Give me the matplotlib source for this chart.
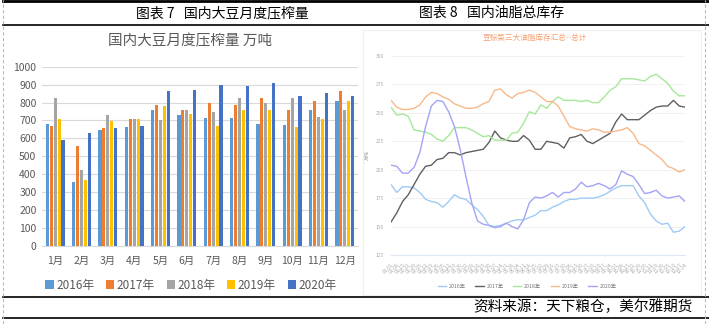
import numpy as np
import matplotlib.pyplot as plt
from matplotlib.lines import Line2D
from matplotlib.patches import Rectangle

plt.rcParams['font.family'] = ['Noto Sans CJK SC', 'DejaVu Sans']

# ---- left chart data: monthly soybean crush (万吨)
months = ["1月", "2月", "3月", "4月", "5月", "6月", "7月", "8月", "9月", "10月", "11月", "12月"]
crush_2016 = [679, 357, 645, 666, 756, 728, 716, 713, 679, 674, 756, 808]
crush_2017 = [670, 560, 657, 711, 789, 756, 795, 785, 823, 756, 808, 864]
crush_2018 = [828, 424, 733, 711, 703, 759, 750, 823, 795, 828, 718, 756]
crush_2019 = [707, 368, 698, 711, 780, 737, 670, 756, 756, 666, 711, 808]
crush_2020 = [590, 632, 657, 672, 862, 871, 896, 890, 909, 838, 853, 834]

# ---- right chart data: weekly oil stock (万吨)
weeks = ["01-01", "01-08", "01-15", "01-22", "01-29", "02-05", "02-12", "02-19", "02-26",
         "03-05", "03-12", "03-19", "03-26", "04-02", "04-09", "04-16", "04-23", "04-30",
         "05-07", "05-14", "05-21", "05-28", "06-04", "06-11", "06-18", "06-25", "07-02",
         "07-09", "07-16", "07-23", "07-30", "08-06", "08-13", "08-20", "08-27", "09-03",
         "09-10", "09-17", "09-24", "10-01", "10-08", "10-15", "10-22", "10-29", "11-05",
         "11-12", "11-19", "11-26", "12-03", "12-10", "12-17", "12-24"]
stock_2016 = [187, 180, 185, 185, 184, 180, 174, 172, 171, 167, 172, 178, 175, 174, 169,
              165, 159, 151, 150, 151, 153, 155, 156, 156, 158, 160, 164, 164, 167, 169,
              172, 174, 174, 175, 175, 175, 176, 178, 181, 184, 186, 186, 186, 177, 171,
              161, 155, 152, 153, 145, 146, 150]
stock_2017 = [154, 162, 172, 178, 187, 196, 203, 204, 209, 210, 215, 215, 213, 215, 216,
              217, 218, 224, 234, 228, 226, 225, 225, 230, 226, 218, 218, 225, 224, 223,
              219, 228, 229, 231, 225, 223, 226, 229, 232, 242, 249, 244, 244, 244, 248,
              252, 255, 256, 256, 261, 256, 255]
stock_2018 = [255, 248, 249, 247, 235, 234, 233, 231, 227, 225, 230, 237, 237, 237, 235,
              232, 229, 230, 226, 226, 226, 232, 233, 241, 251, 249, 257, 254, 260, 264,
              261, 261, 261, 260, 261, 259, 259, 264, 270, 273, 280, 280, 280, 279, 278,
              282, 284, 280, 276, 269, 265, 265]
stock_2019 = [261, 255, 253, 253, 254, 257, 264, 268, 267, 264, 262, 258, 256, 254, 254,
              255, 258, 260, 270, 271, 266, 263, 267, 268, 270, 268, 264, 260, 260, 256,
              247, 238, 236, 235, 234, 236, 235, 233, 233, 234, 235, 237, 232, 223, 221,
              217, 213, 209, 203, 201, 198, 200]
stock_2020 = [204, 203, 197, 197, 202, 215, 238, 256, 261, 260, 251, 238, 218, 194, 171,
              155, 152, 151, 149, 150, 153, 150, 148, 156, 171, 176, 175, 177, 180, 176,
              180, 180, 183, 189, 185, 186, 188, 186, 183, 187, 199, 196, 194, 187, 179,
              180, 182, 177, 175, 176, 177, 172]

W, H = 709, 324
fig = plt.figure(figsize=(W / 100, H / 100), dpi=100)


def box(x0, y0, x1, y1):
    # pixel box -> figure fraction rect
    return [x0 / W, 1 - y1 / H, (x1 - x0) / W, (y1 - y0) / H]


# page frame lines
for y, lw in [(1, 2.0), (25, 1.2), (297, 1.2), (318, 1.2)]:
    fig.add_artist(Line2D([3 / W, 1], [1 - y / H] * 2, color='black', lw=lw))
for x in [3, 705]:
    fig.add_artist(Line2D([x / W] * 2, [0, 1], color='#bbbbbb', lw=0.8, ls=(0, (3, 2))))
fig.add_artist(Rectangle((363 / W, 1 - 295 / H), 338 / W, 265 / H, fill=False,
                         ec='#f0f0f0', lw=0.8))

fig.text(222 / W, 1 - 13 / H, "图表 7   国内大豆月度压榨量", ha='center', va='center', fontsize=10)
fig.text(492 / W, 1 - 13 / H, "图表 8   国内油脂总库存", ha='center', va='center', fontsize=10)
fig.text(693 / W, 1 - 307 / H, "资料来源：天下粮仓，美尔雅期货", ha='right', va='center', fontsize=10.5)

# ---- left: grouped bars
ax1 = fig.add_axes(box(42, 66.7, 358, 246))
x = np.arange(len(months))
series = [("2016年", crush_2016, '#5B9BD5'), ("2017年", crush_2017, '#ED7D31'),
          ("2018年", crush_2018, '#A5A5A5'), ("2019年", crush_2019, '#FFC000'),
          ("2020年", crush_2020, '#4472C4')]
bw = 0.15
for k, (name, vals, col) in enumerate(series):
    ax1.bar(x + (k - 2) * bw, vals, width=bw * 0.8, color=col, label=name, zorder=3)
ax1.set_xlim(-0.5, 11.5)
ax1.set_ylim(0, 1000)
ax1.set_yticks(range(0, 1001, 100))
ax1.set_xticks(x)
ax1.set_xticklabels(months)
ax1.grid(axis='y', color='#d9d9d9', lw=0.8, zorder=0)
for s in ['top', 'right', 'left']:
    ax1.spines[s].set_visible(False)
ax1.spines['bottom'].set_color('#d9d9d9')
ax1.tick_params(length=0, labelsize=7.5, labelcolor='#595959', pad=4)
ax1.tick_params(axis='x', pad=7)
fig.text(190 / W, 1 - 41 / H, "国内大豆月度压榨量 万吨", ha='center', va='center',
         fontsize=10.5, color='#595959')
fig.legend(*ax1.get_legend_handles_labels(), loc='center', bbox_to_anchor=(191 / W, 1 - 285 / H),
           ncol=5, frameon=False, fontsize=8.5, labelcolor='#595959', handlelength=0.7,
           handleheight=0.7, handletextpad=0.2, columnspacing=1.0)

# ---- right: weekly stock lines
ax2 = fig.add_axes(box(391, 56, 685, 255))
xi = np.arange(len(weeks))
lines = [("2016年", stock_2016, '#9ecbf5'), ("2017年", stock_2017, '#606060'),
         ("2018年", stock_2018, '#a6e89a'), ("2019年", stock_2019, '#f8b98a'),
         ("2020年", stock_2020, '#a3a3f7')]
for name, vals, col in lines:
    ax2.plot(xi, vals, color=col, lw=1.0, label=name)
ax2.set_xlim(0, len(weeks) - 1)
ax2.set_ylim(125, 300)
ax2.set_yticks(range(125, 301, 25))
ax2.set_xticks(xi)
ax2.set_xticklabels(weeks, rotation=45, ha='right', rotation_mode='anchor')
ax2.grid(axis='y', color='#f0f0f0', lw=0.7)
for s in ['top', 'right', 'left']:
    ax2.spines[s].set_visible(False)
ax2.spines['bottom'].set_color('#dde6f5')
ax2.tick_params(length=0, labelsize=3.5, labelcolor='#aaaaaa', pad=5)
ax2.set_ylabel("万吨", fontsize=3.5, color='#999999', labelpad=4)
fig.text(535 / W, 1 - 38 / H, "豆棕菜三大油脂库存汇总--总计", ha='center', va='center',
         fontsize=5.5, color='#f4a071')
fig.legend(*ax2.get_legend_handles_labels(), loc='center', bbox_to_anchor=(527 / W, 1 - 286 / H),
           ncol=5, frameon=False, fontsize=3.8, labelcolor='#777777', handlelength=1.6,
           columnspacing=1.8, handletextpad=0.5)

fig.savefig("out.png", dpi=100)
